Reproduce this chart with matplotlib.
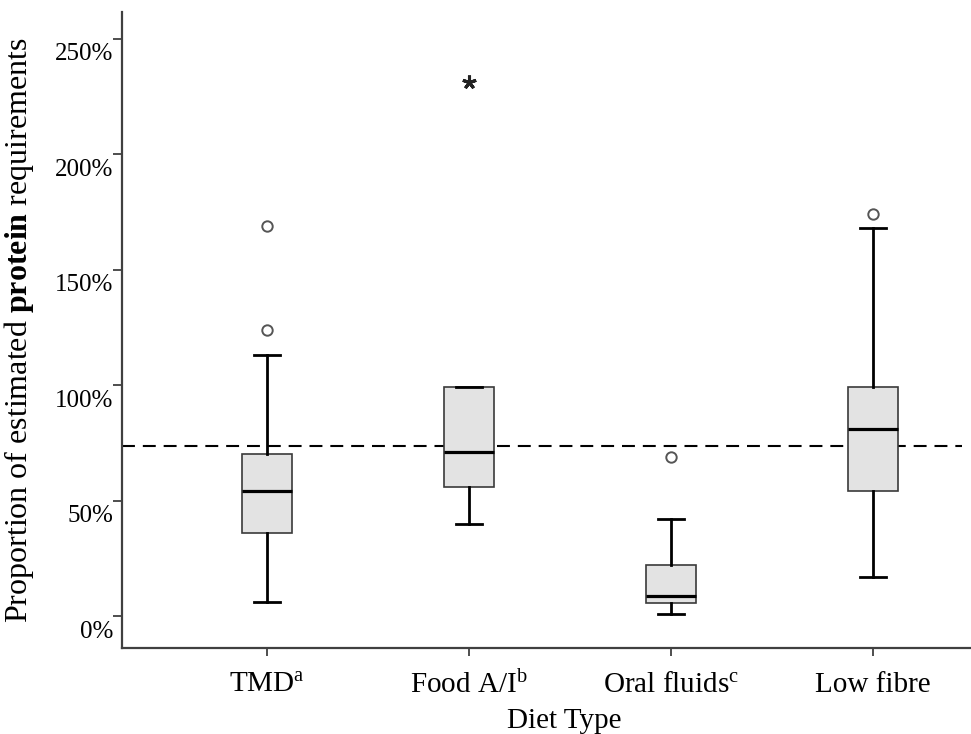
import matplotlib.pyplot as plt
import matplotlib.transforms as mtransforms

plt.rcParams['font.family'] = ['Liberation Serif', 'DejaVu Serif']
plt.rcParams['mathtext.fontset'] = 'custom'
plt.rcParams['mathtext.rm'] = 'Liberation Serif'
plt.rcParams['mathtext.bf'] = 'Liberation Serif:bold'
plt.rcParams['mathtext.it'] = 'Liberation Serif:italic'

# values (% of estimated protein requirements)
diets = ['TMD$^{\\mathrm{a}}$', 'Food A/I$^{\\mathrm{b}}$', 'Oral fluids$^{\\mathrm{c}}$', 'Low fibre']
whislo = [6, 40, 0.7, 17]
q1 = [36, 56, 5.8, 54]
med = [54, 71, 8.7, 81]
q3 = [70, 99, 22, 99]
whishi = [113, 99, 42, 168]
outliers = [[124, 169], [], [69], [174]]
extremes = [[], [231], [], []]
reference_line = 73.6
yticks = [0, 50, 100, 150, 200, 250]

fig = plt.figure(figsize=(9.71, 7.34), dpi=100)
ax = fig.add_axes([122/971, 86/734, 849/971, 636/734])

stats = []
for i in range(len(diets)):
    stats.append(dict(whislo=whislo[i], q1=q1[i], med=med[i], q3=q3[i],
                      whishi=whishi[i], fliers=outliers[i]))

pos = list(range(1, len(diets) + 1))
ax.bxp(stats, positions=pos, widths=0.25, capwidths=0.125, patch_artist=True,
       boxprops=dict(facecolor='#e3e3e3', edgecolor='#3a3a3a', linewidth=1.2),
       medianprops=dict(color='black', linewidth=2.3),
       whiskerprops=dict(color='black', linewidth=2.0),
       capprops=dict(color='black', linewidth=2.0),
       flierprops=dict(marker='o', markerfacecolor='white', markeredgecolor='#555555',
                       markersize=7.5, markeredgewidth=1.4))

for i in range(len(diets)):
    if extremes[i]:
        ax.plot([pos[i]] * len(extremes[i]), extremes[i], linestyle='none',
                marker=(5, 2, 0), markersize=10, markeredgewidth=2.2, color='#222222')

ax.axhline(reference_line, xmin=0, xmax=0.989, color='black', linewidth=1.5,
           linestyle=(0, (6.2, 3.8)), zorder=1)

ax.set_xlim(0.282, 4.485)
ax.set_ylim(-13.85, 261.5)

ax.set_yticks(yticks)
ax.set_yticklabels([str(t) + '%' for t in yticks], fontsize=18)
ax.set_xticks(pos)
ax.set_xticklabels(diets, fontsize=21)

ax.tick_params(axis='y', length=6.5, width=1.3, color='#404040', pad=0)
ax.tick_params(axis='x', length=6, width=1.3, color='#404040', pad=11)

# y tick labels sit a little lower than their ticks
offset = mtransforms.ScaledTranslation(0, -0.13, fig.dpi_scale_trans)
for label in ax.get_yticklabels():
    label.set_transform(label.get_transform() + offset)

for side in ['top', 'right']:
    ax.spines[side].set_visible(False)
for side in ['left', 'bottom']:
    ax.spines[side].set_color('#404040')
    ax.spines[side].set_linewidth(1.6)

ax.set_ylabel('Proportion of estimated $\\mathbf{protein}$ requirements', fontsize=23)
ax.yaxis.set_label_coords(-0.101, 0.5)
ax.set_xlabel('Diet Type', fontsize=21, labelpad=0)
ax.xaxis.set_label_coords((564 - 122) / 849, -0.095)

plt.savefig('out.png', dpi=100)
